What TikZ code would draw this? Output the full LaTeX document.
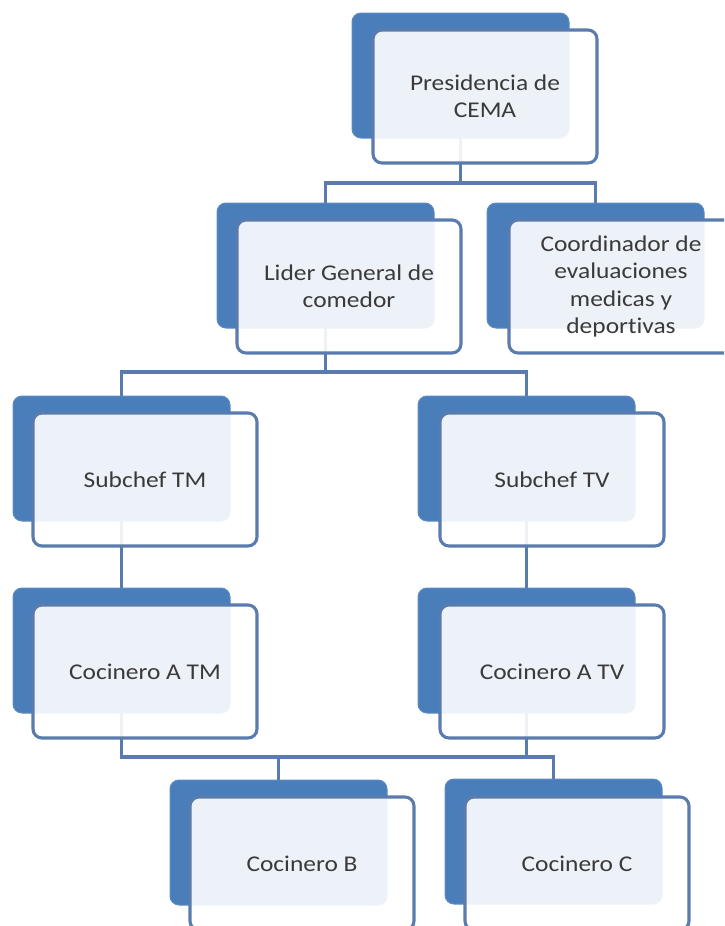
\documentclass[tikz,border=0pt]{standalone}
\usepackage{fontspec}
\setmainfont{Carlito}[FakeStretch=1.13,Ligatures=NoCommon]
\definecolor{backblue}{HTML}{4A7EBB}
\definecolor{edgeblue}{HTML}{5A7BAD}
\definecolor{txt}{HTML}{3A3A3A}
\begin{document}
\begin{tikzpicture}[x=1pt,y=-1pt,
  backbox/.style={rectangle, rounded corners=9pt, fill=backblue, draw=backblue!90!white, line width=1pt,
    minimum width=217pt, minimum height=125pt, inner sep=0pt, outer sep=0pt, anchor=north west},
  frontbox/.style={rectangle, rounded corners=9pt, fill=white, fill opacity=0.9, text opacity=1,
    draw=edgeblue, draw opacity=1, line width=3.1pt, text=txt,
    minimum width=224pt, minimum height=133pt, inner sep=2pt, outer sep=0pt, anchor=north west,
    align=center, font=\fontsize{22.5}{27.5}\selectfont},
  conn/.style={draw=edgeblue, line width=3.5pt}]
\useasboundingbox (0,0) rectangle (724,926);
\clip (0,0) rectangle (724,926);
% back boxes
\node[backbox] (pb) at (352,13) {};
\node[backbox] (lb) at (217,203) {};
\node[backbox] (cb) at (487,203) {};
\node[backbox] (stmb) at (13,396) {};
\node[backbox] (stvb) at (418,396) {};
\node[backbox] (catmb) at (13,588) {};
\node[backbox] (catvb) at (418,588) {};
\node[backbox] (cobb) at (170,780) {};
\node[backbox] (cocb) at (445,779) {};
% bar levels
\coordinate (bar1) at (0,183);
\coordinate (bar2) at (0,372);
\coordinate (bar3) at (0,757);
% connectors
\draw[conn] (pb.south) -- (pb.south |- bar1) -| (lb.north);
\draw[conn] (pb.south |- bar1) -| (cb.north);
\draw[conn] (lb.south) -- (lb.south |- bar2) -| (stmb.north);
\draw[conn] (lb.south |- bar2) -| (stvb.north);
\draw[conn] (stmb.south) -- (catmb.north);
\draw[conn] (stvb.south) -- (catvb.north);
\draw[conn] (catmb.south) -- (catmb.south |- bar3) -| (cobb.north);
\draw[conn] (catvb.south) -- (catvb.south |- bar3) -| (cocb.north);
\draw[conn] (catmb.south |- bar3) -- (catvb.south |- bar3);
% front boxes
\node[frontbox] (p) at (373,30) {Presidencia de\\CEMA};
\node[frontbox] (l) at (237,220) {Lider General de\\comedor};
\node[frontbox] (c) at (509,220) {Coordinador de\\evaluaciones\\medicas y\\deportivas};
\node[frontbox] (stm) at (33,413) {Subchef TM};
\node[frontbox] (stv) at (440,413) {Subchef TV};
\node[frontbox] (catm) at (33,605) {Cocinero A TM};
\node[frontbox] (catv) at (440,605) {Cocinero A TV};
\node[frontbox] (cob) at (190,797) {Cocinero B};
\node[frontbox] (coc) at (465,797) {Cocinero C};
\end{tikzpicture}
\end{document}
